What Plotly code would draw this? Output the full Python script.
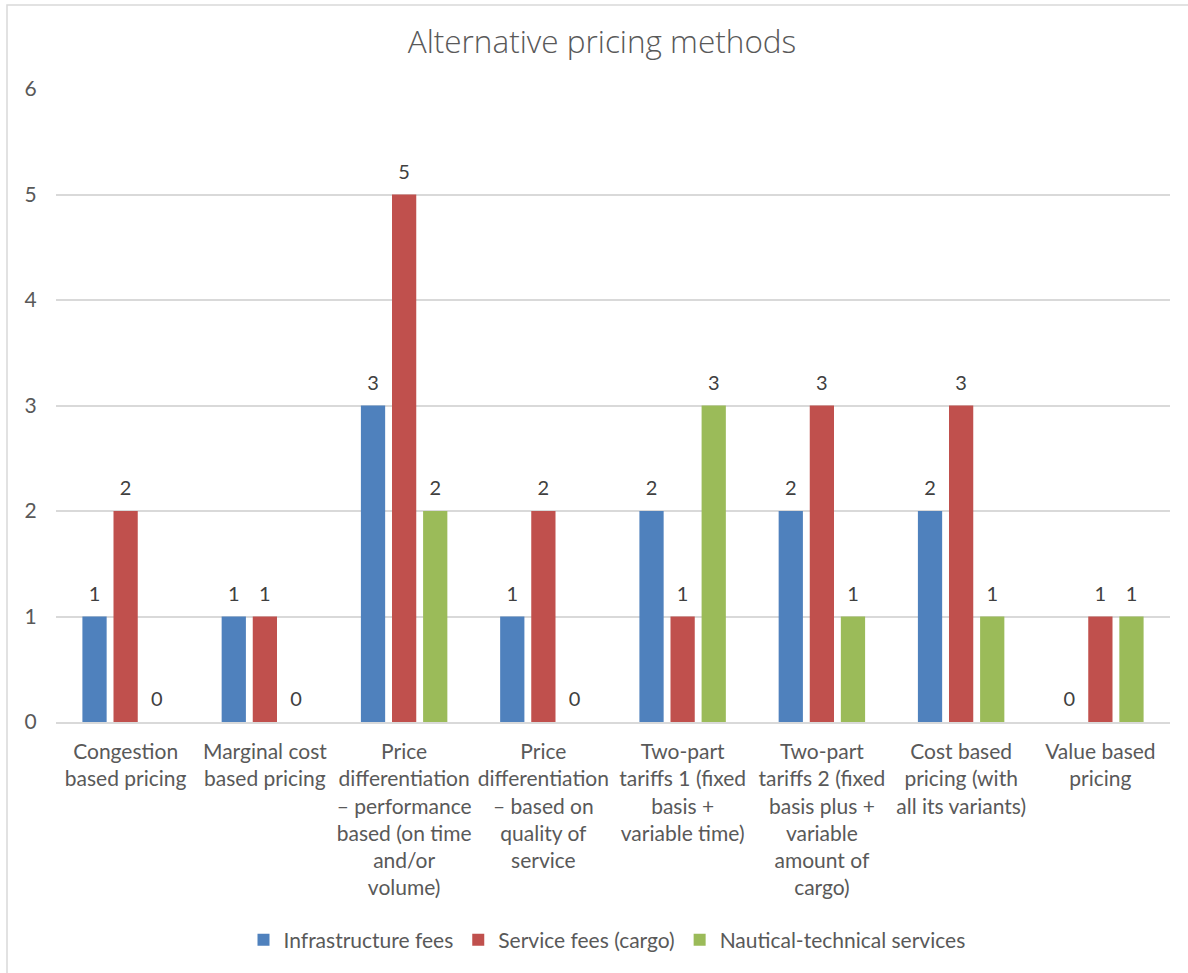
import plotly.graph_objects as go

# Categories and series values
categories = [
    "Congestion<br>based pricing",
    "Marginal cost<br>based pricing",
    "Price<br>differentiation<br>– performance<br>based (on time<br>and/or<br>volume)",
    "Price<br>differentiation<br>– based on<br>quality of<br>service",
    "Two-part<br>tariffs 1 (fixed<br>basis +<br>variable time)",
    "Two-part<br>tariffs 2 (fixed<br>basis plus +<br>variable<br>amount of<br>cargo)",
    "Cost based<br>pricing (with<br>all its variants)",
    "Value based<br>pricing",
]
infrastructure_fees = [1, 1, 3, 1, 2, 2, 2, 0]
service_fees_cargo = [2, 1, 5, 2, 1, 3, 3, 1]
nautical_technical = [0, 0, 2, 0, 3, 1, 1, 1]
y_ticks = [0, 1, 2, 3, 4, 5, 6]

series = [
    ("Infrastructure fees", infrastructure_fees, "#4F81BD"),
    ("Service fees (cargo)", service_fees_cargo, "#C0504D"),
    ("Nautical-technical services", nautical_technical, "#9BBB59"),
]

W, H = 1188, 973
ML, MR, MT, MB = 56, 18, 89, 251
GAP = 0.33

fig = go.Figure()
for i, (name, vals, color) in enumerate(series):
    fig.add_trace(go.Bar(
        name=name,
        x=categories,
        y=vals,
        offsetgroup=str(i),
        marker=dict(color=color, line=dict(width=0)),
        hoverinfo="name+y",
    ))

# Value labels, grouped with the bars and lifted above each bar top
for i, (name, vals, color) in enumerate(series):
    fig.add_trace(go.Scatter(
        x=categories,
        y=vals,
        offsetgroup=str(i),
        mode="markers+text",
        marker=dict(size=16, color="rgba(0,0,0,0)"),
        text=[str(v) for v in vals],
        textposition="top center",
        textfont=dict(family="Lato", size=20, color="#404040"),
        cliponaxis=False,
        showlegend=False,
        hoverinfo="skip",
    ))

label_font = dict(family="Lato", size=21, color="#595959")

fig.update_layout(
    width=W,
    height=H,
    margin=dict(l=ML, r=MR, t=MT, b=MB),
    paper_bgcolor="white",
    plot_bgcolor="white",
    barmode="group",
    bargap=GAP,
    bargroupgap=0.22,
    scattermode="group",
    scattergap=GAP,
    title=dict(
        text="Alternative pricing methods",
        x=602 / W,
        xanchor="center",
        y=1 - 42 / H,
        yanchor="middle",
        font=dict(family="Open Sans", size=31.5, color="#595959", weight=300),
    ),
    xaxis=dict(
        showgrid=False,
        showline=True,
        linecolor="#d9d9d9",
        linewidth=1.5,
        ticks="outside",
        ticklen=10,
        tickcolor="rgba(0,0,0,0)",
        tickfont=label_font,
        tickangle=0,
    ),
    yaxis=dict(
        range=[0, 6],
        tickvals=y_ticks,
        showgrid=True,
        gridcolor="#d9d9d9",
        gridwidth=1.5,
        zeroline=False,
        showline=False,
        ticks="outside",
        ticklen=14,
        tickcolor="rgba(0,0,0,0)",
        tickfont=label_font,
    ),
    legend=dict(
        orientation="h",
        x=(607 - ML) / (W - ML - MR),
        xanchor="center",
        y=-(940 - 722) / (H - MT - MB),
        yanchor="middle",
        font=dict(family="Lato", size=21, color="#595959"),
        traceorder="normal",
    ),
    showlegend=True,
)

# Light chart-area frame
fig.add_shape(
    type="rect",
    xref="paper", yref="paper",
    x0=(7 - ML) / (W - ML - MR), x1=(W + 5 - ML) / (W - ML - MR),
    y0=-(H + 5 - MT - (H - MB - MT) - MT) / (H - MT - MB) - 1,
    y1=1 + (MT - 5) / (H - MT - MB),
    line=dict(color="#d9d9d9", width=1.5),
    fillcolor="rgba(0,0,0,0)",
    layer="below",
)

fig.write_html("out.html")
